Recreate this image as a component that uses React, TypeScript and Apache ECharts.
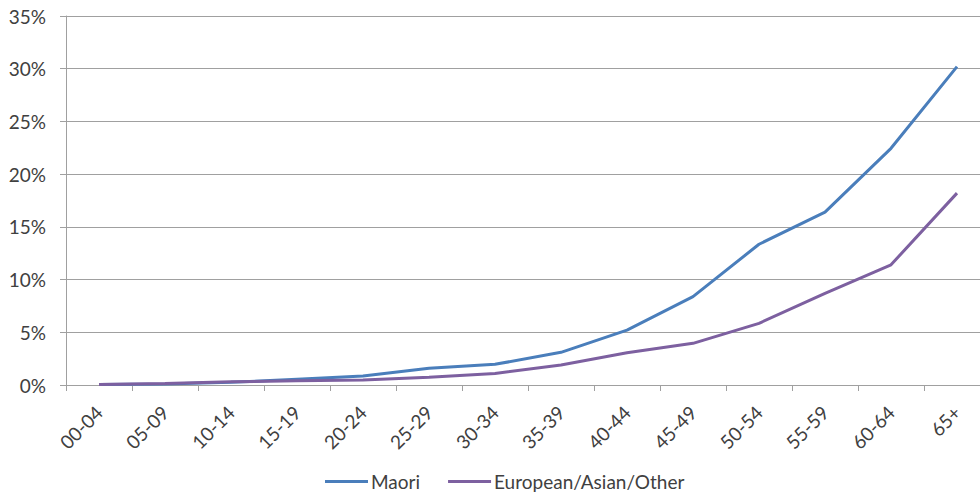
import React, { useEffect, useRef } from "react";
import * as echarts from "echarts";

const categories = ["00-04", "05-09", "10-14", "15-19", "20-24", "25-29", "30-34", "35-39", "40-44", "45-49", "50-54", "55-59", "60-64", "65+"];
const maori = [0.05, 0.1, 0.25, 0.55, 0.85, 1.58, 1.96, 3.1, 5.2, 8.38, 13.35, 16.4, 22.45, 30.2];
const european = [0.05, 0.15, 0.3, 0.4, 0.47, 0.73, 1.1, 1.9, 3.05, 3.95, 5.85, 8.7, 11.4, 18.2];
const seriesNames = ["Maori", "European/Asian/Other"];
const FONT = "Lato";

export default function App() {
  const ref = useRef<HTMLDivElement>(null);
  useEffect(() => {
    document.body.style.margin = "0";
    if (!ref.current) return;
    const chart = echarts.init(ref.current, undefined, { renderer: "svg" });
    chart.setOption({
      animation: false,
      textStyle: { fontFamily: FONT },
      grid: { left: 66, right: 10, top: 16, bottom: 109, containLabel: false },
      legend: {
        top: 472,
        left: 325,
        padding: 0,
        itemWidth: 43,
        itemHeight: 3,
        itemGap: 28,
        icon: "rect",
        textStyle: { fontSize: 19, color: "#404040", fontFamily: FONT, padding: [0, 0, 0, -2] },
        data: seriesNames,
      },
      xAxis: {
        type: "category",
        data: categories,
        boundaryGap: true,
        axisLine: { lineStyle: { color: "#a0a0a0", width: 1 } },
        axisTick: { show: true, length: 6, lineStyle: { color: "#a0a0a0" } },
        axisLabel: { rotate: 45, fontSize: 19, color: "#404040", margin: 24, fontFamily: FONT, interval: 0 },
      },
      yAxis: {
        type: "value",
        min: 0,
        max: 35,
        interval: 5,
        axisLine: { show: true, lineStyle: { color: "#a0a0a0" } },
        axisTick: { show: true, length: 6, lineStyle: { color: "#a0a0a0" } },
        splitLine: { lineStyle: { color: "#a0a0a0" } },
        axisLabel: { formatter: "{value}%", fontSize: 19, color: "#404040", margin: 20, fontFamily: FONT },
      },
      series: [
        {
          name: seriesNames[0],
          type: "line",
          data: maori,
          symbol: "none",
          lineStyle: { width: 3, color: "#4A7EBB" },
          itemStyle: { color: "#4A7EBB" },
        },
        {
          name: seriesNames[1],
          type: "line",
          data: european,
          symbol: "none",
          lineStyle: { width: 3, color: "#7D60A0" },
          itemStyle: { color: "#7D60A0" },
        },
      ],
    });
    return () => chart.dispose();
  }, []);
  return (
    <div style={{ width: 980, height: 494, overflow: "hidden", position: "relative" }}>
      <div ref={ref} style={{ width: 1000, height: 494 }} />
    </div>
  );
}
